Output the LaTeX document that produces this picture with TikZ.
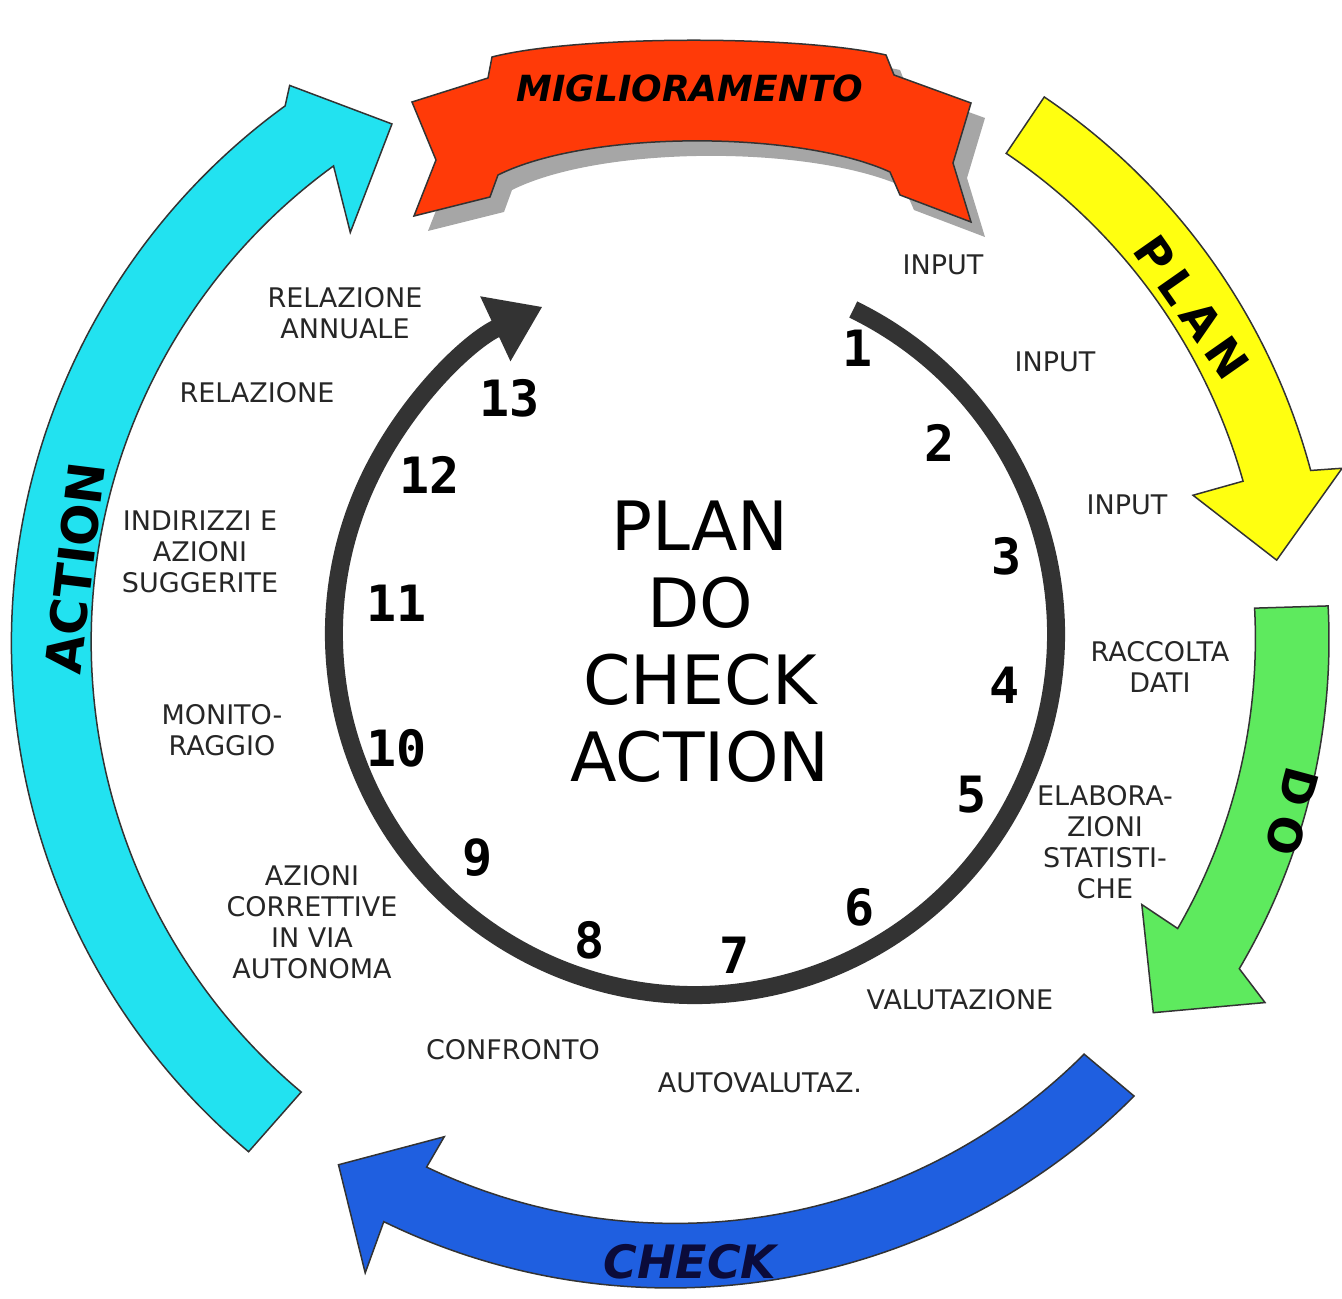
\documentclass[tikz,border=0pt]{standalone}
\usepackage{fontspec}
\setmainfont{DejaVu Sans}
\newfontfamily\numfont{DejaVu Sans Mono}
\usepackage{tikz}
\usetikzlibrary{arrows.meta}

\definecolor{planyellow}{HTML}{FFFF10}
\definecolor{dogreen}{HTML}{5EEA5E}
\definecolor{checkblue}{HTML}{1F5FE0}
\definecolor{actioncyan}{HTML}{22E2F0}
\definecolor{ribbonred}{HTML}{FF3A08}
\definecolor{ringgray}{HTML}{333333}
\definecolor{checknavy}{HTML}{0B0B3A}

\tikzset{
    band/.style={draw=black!80, line width=1.5pt},
    smalllabel/.style={font=\fontsize{27}{31}\selectfont, align=center, text=black!85},
    numlabel/.style={font=\numfont\bfseries\fontsize{50}{50}\selectfont},
    arrowlabel/.style={font=\bfseries\fontsize{46}{46}\selectfont}
}

\newcommand{\ribbonshape}[1]{%
    \filldraw[#1] (-266,538) -- (-190,562) -- (-186,583)
        .. controls (-100,605) and (120,605) .. (208,585)
        -- (216,565) -- (293,537) -- (275,477) -- (293,418)
        -- (222,445) -- (212,468)
        .. controls (120,510) and (-90,510) .. (-180,465)
        -- (-188,443) -- (-264,424) -- (-242,480) -- cycle;}

\begin{document}
\begin{tikzpicture}[x=1pt, y=1pt]
        \path[use as bounding box] (-678,-659) rectangle (664,640);

        % the four big arrows round the cycle
        \filldraw[band, fill=planyellow] (56:655) arc[start angle=56, end angle=15, radius=655]
            -- (14.5:686) -- (7.6:604) -- (15.7:535) -- (15.7:587)
            arc[start angle=15.7, end angle=56, radius=587] -- cycle;
        \filldraw[band, fill=dogreen] (3:651) arc[start angle=3, end angle=-30.5, radius=648]
            -- (-31.7:690) -- (-38.1:604) -- (-29.7:534) -- (-30:577)
            arc[start angle=-30, end angle=3, radius=580] -- cycle;
        \filldraw[band, fill=checkblue] (-45:645) arc[start angle=-45, end angle=-116, radius=655]
            -- (-116.3:706) -- (-122.9:625) -- (-115.2:549) -- (-115.5:584)
            arc[start angle=-115.5, end angle=-45, radius=578] -- cycle;
        \filldraw[band, fill=actioncyan] (230:668) arc[start angle=230, end angle=126, radius=664]
            -- (125:677) -- (119:590) -- (128.8:523) -- (126:586)
            arc[start angle=126, end angle=230, radius=588] -- cycle;

        % banner on top
        \ribbonshape{fill=gray!70, draw=none, shift={(14,-15)}}
        \ribbonshape{fill=ribbonred, draw=black!80, line width=1.5pt}

        \node[font=\bfseries\itshape\fontsize{36}{36}\selectfont] (mig) at (12,552) {MIGLIORAMENTO};
        \node[arrowlabel, font=\bfseries\fontsize{46}{46}\selectfont\addfontfeature{LetterSpace=18}, rotate=-55] (plan) at (514,333) {PLAN};
        \node[arrowlabel, font=\bfseries\fontsize{46}{46}\selectfont\addfontfeature{LetterSpace=25}, rotate=-105] (do) at (614,-172) {DO};
        \node[arrowlabel, font=\bfseries\itshape\fontsize{46}{46}\selectfont, text=checknavy] (check) at (12,-622) {CHECK};
        \node[arrowlabel, font=\bfseries\fontsize{50}{50}\selectfont, rotate=83] (action) at (-603,72) {ACTION};

        % inner cycle
        \draw[ringgray, line width=18pt, -{Triangle[length=52pt, width=68pt]}]
            ([shift={(17,6)}]64:361) arc[start angle=64, end angle=-245, radius=361];
        \node[font=\fontsize{68}{77}\selectfont, align=center] (pdca) at (22,-2) {PLAN\\DO\\CHECK\\ACTION};

        \node[numlabel] (n1) at (180,292) {1};
        \node[numlabel] (n2) at (262,197) {2};
        \node[numlabel] (n3) at (329,84) {3};
        \node[numlabel] (n4) at (327,-45) {4};
        \node[numlabel] (n5) at (294,-155) {5};
        \node[numlabel] (n6) at (182,-267) {6};
        \node[numlabel] (n7) at (57,-315) {7};
        \node[numlabel] (n8) at (-88,-300) {8};
        \node[numlabel] (n9) at (-200,-218) {9};
        \node[numlabel] (n10) at (-281,-108) {10};
        \node[numlabel] (n11) at (-281,37) {11};
        \node[numlabel] (n12) at (-248,165) {12};
        \node[numlabel] (n13) at (-168,242) {13};

        % steps
        \node[smalllabel] (in1) at (265,375) {INPUT};
        \node[smalllabel] (in2) at (377,278) {INPUT};
        \node[smalllabel] (in3) at (449,135) {INPUT};
        \node[smalllabel] (racc) at (482,-27) {RACCOLTA\\DATI};
        \node[smalllabel] (elab) at (427,-202) {ELABORA-\\ZIONI\\STATISTI-\\CHE};
        \node[smalllabel] (valut) at (282,-360) {VALUTAZIONE};
        \node[smalllabel] (autov) at (82,-443) {AUTOVALUTAZ.};
        \node[smalllabel] (confr) at (-165,-410) {CONFRONTO};
        \node[smalllabel] (azcorr) at (-366,-282) {AZIONI\\CORRETTIVE\\IN VIA\\AUTONOMA};
        \node[smalllabel] (monit) at (-456,-90) {MONITO-\\RAGGIO};
        \node[smalllabel] (indir) at (-478,88) {INDIRIZZI E\\AZIONI\\SUGGERITE};
        \node[smalllabel] (rel) at (-421,247) {RELAZIONE};
        \node[smalllabel] (relann) at (-333,327) {RELAZIONE\\ANNUALE};
    \end{tikzpicture}
\end{document}
